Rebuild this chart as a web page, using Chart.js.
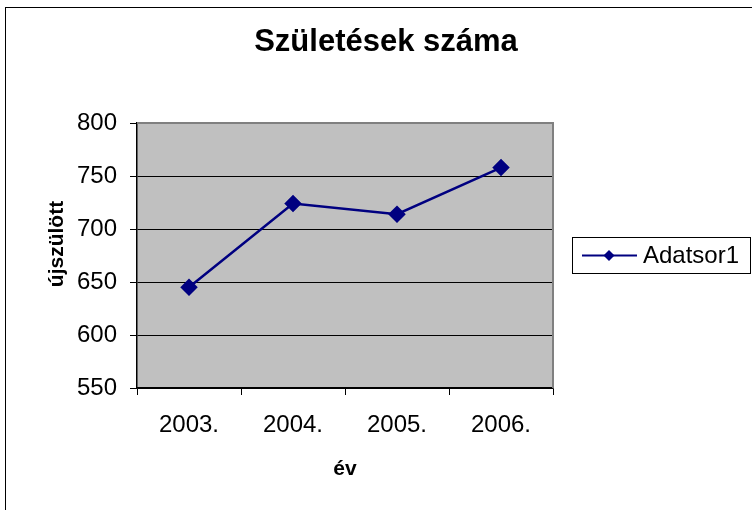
<!DOCTYPE html>
<html>
<head>
<meta charset="utf-8">
<script src="https://cdn.jsdelivr.net/npm/chart.js@4/dist/chart.umd.min.js"></script>
<style>
  body { margin: 0; background: #fff; }
  canvas { display: block; }
</style>
</head>
<body>
<canvas id="chart" width="752" height="510"></canvas>
<script>
// Chart data
const years = ['2003.', '2004.', '2005.', '2006.'];
const births = [645, 724, 714, 758];
const seriesName = 'Adatsor1';
const chartTitle = 'Születések száma';
const yTitle = 'újszülött';
const xTitle = 'év';
const yMin = 550, yMax = 800, yStep = 50;

const FONT = '"Liberation Sans", Arial, sans-serif';
const NAVY = '#000080';

// Frame, plot background, titles and legend
const excelLook = {
    id: 'excelLook',
    beforeDraw(chart) {
        const ctx = chart.ctx;
        const a = chart.chartArea;
        ctx.save();
        ctx.fillStyle = '#fff';
        ctx.fillRect(0, 0, chart.width, chart.height);
        ctx.strokeStyle = '#000';
        ctx.lineWidth = 1;
        ctx.strokeRect(5.5, 7.5, 900, 700);
        ctx.fillStyle = '#c0c0c0';
        ctx.fillRect(a.left, a.top, a.right - a.left, a.bottom - a.top);
        ctx.restore();
    },
    afterDraw(chart) {
        const ctx = chart.ctx;
        const a = chart.chartArea;
        ctx.save();
        // top / right plot border
        ctx.strokeStyle = '#808080';
        ctx.lineWidth = 2;
        ctx.beginPath();
        ctx.moveTo(a.left, a.top);
        ctx.lineTo(a.right, a.top);
        ctx.lineTo(a.right, a.bottom);
        ctx.stroke();

        // title
        ctx.fillStyle = '#000';
        ctx.font = 'bold 31px ' + FONT;
        ctx.textAlign = 'center';
        ctx.textBaseline = 'alphabetic';
        ctx.fillText(chartTitle, 386, 51);

        // y axis title (sits a bit above the plot centre in the original)
        ctx.save();
        ctx.translate(57, 244);
        ctx.rotate(-Math.PI / 2);
        ctx.font = 'bold 21px ' + FONT;
        ctx.textBaseline = 'middle';
        ctx.fillText(yTitle, 0, 0);
        ctx.restore();

        // legend
        const ds = chart.data.datasets[0];
        ctx.strokeStyle = '#000';
        ctx.lineWidth = 1;
        ctx.strokeRect(572.5, 237.5, 178, 36);
        ctx.strokeStyle = ds.borderColor;
        ctx.lineWidth = 2;
        ctx.beginPath();
        ctx.moveTo(582, 255.5);
        ctx.lineTo(637, 255.5);
        ctx.stroke();
        ctx.fillStyle = ds.pointBackgroundColor;
        ctx.beginPath();
        ctx.moveTo(609, 250);
        ctx.lineTo(614.5, 255.5);
        ctx.lineTo(609, 261);
        ctx.lineTo(603.5, 255.5);
        ctx.closePath();
        ctx.fill();
        ctx.fillStyle = '#000';
        ctx.font = '24px ' + FONT;
        ctx.textAlign = 'left';
        ctx.fillText(ds.label, 643, 263);
        ctx.restore();
    }
};

new Chart(document.getElementById('chart'), {
    type: 'line',
    data: {
        labels: years,
        datasets: [{
            label: seriesName,
            data: births,
            borderColor: NAVY,
            borderWidth: 2.5,
            pointStyle: 'rectRot',
            pointRadius: 7,
            pointBackgroundColor: NAVY,
            pointBorderColor: NAVY,
            tension: 0
        }]
    },
    options: {
        responsive: false,
        animation: false,
        layout: { padding: { top: 123, right: 199, left: 0, bottom: 0 } },
        plugins: {
            legend: { display: false },
            title: { display: false },
            tooltip: { enabled: false }
        },
        scales: {
            x: {
                offset: true,
                afterFit(scale) { scale.height = 122; },
                grid: {
                    offset: true,
                    drawOnChartArea: false,
                    drawTicks: true,
                    tickLength: 7,
                    color: '#000'
                },
                border: { color: '#000', width: 1.5 },
                ticks: {
                    color: '#000',
                    padding: 16,
                    maxRotation: 0,
                    font: { family: FONT, size: 24 }
                },
                title: {
                    display: true,
                    text: xTitle,
                    color: '#000',
                    padding: { top: 0, bottom: 28 },
                    font: { family: FONT, size: 21, weight: 'bold' }
                }
            },
            y: {
                min: yMin,
                max: yMax,
                afterFit(scale) { scale.width = 137; },
                grid: {
                    color: '#000',
                    lineWidth: 1,
                    tickLength: 7
                },
                border: { color: '#000', width: 1.5 },
                ticks: {
                    stepSize: yStep,
                    color: '#000',
                    padding: 13,
                    font: { family: FONT, size: 24 }
                }
            }
        }
    },
    plugins: [excelLook]
});
</script>
</body>
</html>
